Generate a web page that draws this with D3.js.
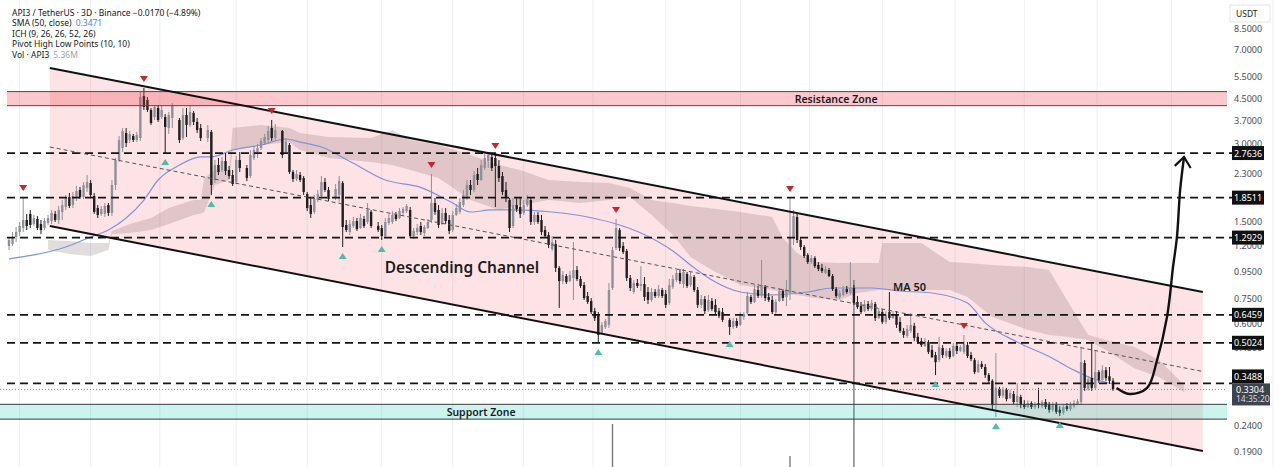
<!DOCTYPE html>
<html><head><meta charset="utf-8">
<script src="https://cdn.jsdelivr.net/npm/d3@7"></script>
<style>
html,body{margin:0;padding:0;background:#fff;overflow:hidden;}
svg{display:block;font-family:"Noto Sans","Open Sans",Arial,sans-serif;}
</style></head><body>
<svg id="c" width="1280" height="467"></svg>
<script>
// ---------- DATA ----------
// candles: [candle index, open, high, low, close]  (USDT)
const ohlc = [
[0,1.199,1.300,1.156,1.265],[1,1.220,1.359,1.199,1.300],[2,1.300,1.422,1.242,1.359],[3,1.359,1.487,1.311,1.435],
[4,1.409,1.862,1.359,1.514],[5,1.514,1.599,1.384,1.435],[6,1.599,1.657,1.409,1.448],[7,1.461,1.584,1.435,1.542],
[8,1.528,1.570,1.384,1.409],[9,1.461,1.514,1.335,1.384],[10,1.409,1.542,1.384,1.500],[11,1.474,1.584,1.448,1.542],
[12,1.500,1.657,1.461,1.613],[13,1.599,1.642,1.487,1.514],[14,1.514,1.717,1.461,1.657],[15,1.628,1.812,1.514,1.732],
[16,1.702,1.896,1.657,1.845],[17,1.862,1.930,1.686,1.717],[18,1.732,1.948,1.686,1.879],[19,1.845,2.055,1.796,1.965],
[20,1.983,2.037,1.829,1.862],[21,1.862,2.130,1.829,2.074],[22,2.018,2.269,1.948,2.130],[23,2.111,2.169,1.862,1.896],
[24,1.879,1.930,1.599,1.628],[25,1.686,1.732,1.542,1.584],[26,1.599,1.717,1.570,1.671],[27,1.599,1.764,1.556,1.717],
[28,1.732,1.764,1.570,1.613],[29,1.613,2.169,1.570,2.074],[30,2.074,2.643,1.983,2.596],[31,2.596,3.221,2.550,3.107],
[32,2.891,3.461,2.789,3.368],[33,3.309,3.461,2.918,3.024],[34,3.107,3.368,3.024,3.279],[35,3.221,3.279,3.052,3.107],
[36,3.107,3.339,3.052,3.250],[37,3.163,4.783,3.079,4.573],[38,4.614,4.958,4.069,4.180],[39,4.451,4.573,3.997,4.069],
[40,4.069,4.142,3.556,3.620],[41,3.821,4.256,3.719,4.180],[42,4.142,4.256,3.653,3.719],[43,3.821,4.217,3.753,4.069],
[44,3.821,3.925,2.764,3.493],[45,3.461,3.997,3.279,3.890],[46,3.787,4.333,3.461,4.217],[48,3.719,3.787,3.024,3.107],
[49,3.163,4.142,3.107,3.890],[50,3.890,4.142,3.192,3.556],[51,3.556,4.217,3.493,3.997],[52,3.961,4.032,3.556,3.653],
[53,3.653,3.787,3.309,3.399],[54,3.461,3.588,3.079,3.163],[56,3.163,3.556,3.052,3.399],[57,3.339,3.399,1.896,2.074],
[58,2.169,2.596,2.111,2.482],[59,2.482,2.643,2.269,2.331],[60,2.373,2.667,2.331,2.573],[61,2.573,2.764,2.269,2.352],
[62,2.373,2.460,2.189,2.248],[63,2.269,2.373,2.055,2.092],[64,2.130,2.691,2.092,2.596],[65,2.596,2.789,2.331,2.416],
[67,2.416,2.482,2.149,2.208],[68,2.248,2.840,2.208,2.715],[69,2.643,2.944,2.596,2.840],[70,2.789,2.997,2.643,2.891],
[71,2.891,3.163,2.840,3.079],[72,3.024,3.279,2.971,3.192],[73,3.107,3.524,2.997,3.368],[74,3.461,3.719,3.079,3.163],
[75,3.163,3.588,3.079,3.399],[77,3.368,3.400,2.643,2.715],[78,2.789,3.163,2.764,3.052],[79,2.971,3.024,2.289,2.331],
[80,2.331,2.373,2.130,2.189],[81,2.189,2.373,2.149,2.289],[82,2.269,2.331,2.130,2.169],[83,2.208,2.248,1.896,1.948],
[84,1.913,1.948,1.642,1.686],[85,1.732,1.845,1.542,1.599],[86,1.628,1.896,1.599,1.829],[87,1.812,1.983,1.780,1.913],
[88,1.879,2.248,1.845,2.130],[89,2.130,2.208,1.948,1.983],[90,1.983,2.037,1.796,1.829],[92,1.845,2.092,1.812,2.000],
[93,1.896,2.248,1.780,2.149],[94,2.111,2.149,1.188,1.422],[95,1.448,1.514,1.359,1.384],[96,1.359,1.514,1.323,1.461],
[97,1.435,1.556,1.409,1.500],[98,1.500,1.542,1.372,1.396],[99,1.409,1.599,1.396,1.542],[100,1.528,1.570,1.409,1.435],
[101,1.487,1.764,1.461,1.657],[102,1.628,1.657,1.409,1.435],[104,1.435,1.487,1.359,1.384],[105,1.409,1.448,1.265,1.311],
[106,1.311,1.542,1.288,1.487],[107,1.474,1.599,1.448,1.542],[108,1.487,1.642,1.461,1.584],[109,1.584,1.628,1.500,1.528],
[110,1.542,1.686,1.528,1.642],[111,1.613,1.702,1.570,1.671],[112,1.642,1.748,1.613,1.717],[113,1.657,1.702,1.288,1.311],
[114,1.311,1.409,1.276,1.372],[115,1.359,1.461,1.323,1.409],[116,1.435,1.487,1.323,1.359],[117,1.347,1.448,1.311,1.422],
[118,1.409,1.528,1.396,1.487],[119,1.514,2.289,1.474,1.764],[120,1.764,1.845,1.584,1.628],[121,1.657,1.732,1.409,1.448],
[122,1.461,1.686,1.448,1.613],[123,1.613,1.686,1.461,1.500],[124,1.514,1.584,1.335,1.372],[125,1.384,1.642,1.359,1.584],
[126,1.584,1.748,1.570,1.686],[127,1.628,1.845,1.599,1.780],[128,1.732,1.983,1.702,1.896],[129,1.845,2.169,1.812,2.074],
[130,2.074,2.169,1.896,1.983],[131,1.983,2.352,1.948,2.269],[132,2.289,2.416,2.074,2.169],[133,2.169,2.596,2.149,2.482],
[134,2.416,2.740,2.373,2.643],[135,2.573,2.789,2.416,2.715],[136,2.667,2.715,2.352,2.416],[137,2.643,2.715,1.702,2.460],
[138,2.460,2.596,2.130,2.208],[139,2.248,2.331,1.896,1.948],[140,1.983,2.130,1.780,1.845],[141,1.812,1.845,1.359,1.409],
[142,1.435,1.845,1.409,1.732],[143,1.732,1.845,1.628,1.671],[144,1.702,1.845,1.542,1.599],[145,1.613,1.812,1.584,1.732],
[146,1.732,1.896,1.702,1.829],[147,1.812,1.862,1.448,1.487],[148,1.487,1.628,1.448,1.584],[149,1.584,1.628,1.461,1.487],
[150,1.514,1.584,1.323,1.359],[151,1.384,1.435,1.288,1.311],[152,1.323,1.359,1.177,1.209],[153,1.167,1.311,1.146,1.242],
[154,1.220,1.265,0.949,0.984],[155,0.984,1.001,0.687,0.875],[156,0.875,0.957,0.852,0.924],[157,0.915,0.932,0.852,0.867],
[158,0.875,0.957,0.867,0.924],[159,0.899,1.242,0.738,0.966],[160,0.966,1.001,0.875,0.891],[161,0.891,0.915,0.822,0.837],
[162,0.844,0.867,0.738,0.751],[163,0.765,0.793,0.712,0.725],[164,0.731,0.751,0.650,0.662],[165,0.668,0.687,0.611,0.627],
[166,0.644,0.662,0.501,0.539],[167,0.549,0.606,0.544,0.590],[168,0.579,0.622,0.569,0.611],[169,0.590,0.860,0.574,0.807],
[170,0.822,1.188,0.807,1.156],[171,1.177,1.528,1.156,1.409],[172,1.384,1.409,1.146,1.177],[173,1.199,1.242,1.115,1.135],
[174,1.146,1.167,0.875,0.899],[175,0.899,0.924,0.800,0.822],[176,0.793,0.883,0.779,0.860],[177,0.860,0.891,0.822,0.837],
[178,0.837,1.001,0.800,0.852],[179,0.852,0.907,0.731,0.758],[180,0.793,0.829,0.712,0.738],[181,0.738,0.822,0.725,0.793],
[182,0.793,0.814,0.751,0.765],[183,0.765,0.844,0.751,0.814],[184,0.807,0.822,0.751,0.765],[185,0.779,0.807,0.687,0.706],
[186,0.718,0.891,0.706,0.844],[187,0.829,0.924,0.814,0.891],[188,0.883,0.966,0.867,0.940],[189,0.940,0.975,0.852,0.875],
[190,0.852,0.975,0.822,0.949],[191,0.932,0.949,0.822,0.837],[192,0.844,0.949,0.829,0.915],[193,0.907,0.924,0.793,0.807],
[194,0.807,0.829,0.687,0.706],[195,0.706,0.772,0.687,0.744],[196,0.744,0.765,0.650,0.668],[197,0.674,0.772,0.662,0.738],
[198,0.731,0.751,0.668,0.681],[199,0.706,0.744,0.650,0.662],[200,0.668,0.687,0.627,0.639],[201,0.662,0.687,0.606,0.617],
[203,0.617,0.627,0.539,0.579],[204,0.579,0.627,0.569,0.611],[205,0.611,0.627,0.574,0.585],[206,0.590,0.662,0.585,0.644],
[207,0.633,0.662,0.617,0.650],[208,0.656,0.793,0.644,0.765],[209,0.758,0.772,0.712,0.725],[210,0.725,0.844,0.718,0.814],
[211,0.807,0.837,0.751,0.765],[212,0.765,1.057,0.751,0.844],[213,0.829,0.844,0.731,0.751],[214,0.758,0.786,0.725,0.738],
[215,0.738,0.765,0.650,0.662],[216,0.662,0.744,0.650,0.725],[217,0.731,0.822,0.725,0.800],[218,0.800,0.814,0.731,0.751],
[219,0.758,0.883,0.699,0.800],[220,0.786,1.845,0.738,1.300],[221,1.288,1.657,1.209,1.570],[222,1.556,1.599,1.231,1.265],
[223,1.265,1.288,1.156,1.188],[224,1.188,1.209,1.076,1.095],[225,1.105,1.125,1.020,1.038],[226,1.038,1.105,1.020,1.076],
[227,1.076,1.095,0.984,1.001],[228,1.011,1.038,0.957,0.975],[229,0.984,1.020,0.940,0.957],[230,0.940,1.001,0.932,0.975],
[231,0.966,0.984,0.907,0.915],[232,0.915,0.932,0.800,0.814],[233,0.814,0.829,0.751,0.765],[234,0.758,0.807,0.744,0.786],
[235,0.772,0.837,0.765,0.814],[236,0.814,0.837,0.779,0.793],[237,0.786,1.038,0.772,0.822],[238,0.822,0.844,0.706,0.718],
[239,0.725,0.765,0.681,0.693],[240,0.699,0.725,0.650,0.662],[241,0.668,0.738,0.662,0.712],[242,0.712,0.731,0.668,0.681],
[243,0.681,0.738,0.668,0.718],[244,0.712,0.725,0.611,0.627],[245,0.627,0.687,0.622,0.668],[246,0.662,0.681,0.595,0.606],
[247,0.606,0.668,0.595,0.644],[248,0.662,0.793,0.617,0.627],[249,0.627,0.668,0.622,0.650],[250,0.650,0.668,0.574,0.590],
[251,0.606,0.633,0.549,0.559],[252,0.559,0.574,0.525,0.539],[253,0.534,0.590,0.525,0.569],[254,0.559,0.656,0.549,0.590],
[255,0.585,0.601,0.510,0.525],[256,0.530,0.549,0.497,0.506],[257,0.510,0.525,0.484,0.492],[258,0.488,0.525,0.484,0.510],
[259,0.506,0.515,0.454,0.463],[260,0.471,0.492,0.438,0.442],[261,0.450,0.463,0.376,0.422],[262,0.430,0.530,0.422,0.484],
[263,0.479,0.492,0.438,0.450],[264,0.446,0.479,0.438,0.467],[265,0.467,0.479,0.434,0.442],[266,0.446,0.501,0.442,0.488],
[267,0.488,0.506,0.454,0.467],[268,0.467,0.492,0.463,0.484],[269,0.463,0.539,0.454,0.497],[270,0.492,0.506,0.438,0.446],
[271,0.450,0.463,0.426,0.434],[272,0.430,0.438,0.379,0.386],[273,0.386,0.430,0.383,0.415],[274,0.415,0.426,0.397,0.404],
[275,0.404,0.415,0.366,0.376],[276,0.376,0.383,0.350,0.357],[277,0.357,0.362,0.272,0.287],[278,0.289,0.458,0.258,0.335],
[279,0.332,0.338,0.306,0.312],[280,0.312,0.338,0.306,0.329],[281,0.329,0.335,0.297,0.303],[282,0.306,0.329,0.303,0.320],
[283,0.317,0.326,0.289,0.295],[284,0.295,0.350,0.282,0.312],[285,0.309,0.315,0.279,0.287],[286,0.289,0.300,0.277,0.282],
[287,0.282,0.300,0.279,0.292],[288,0.292,0.297,0.277,0.282],[289,0.282,0.295,0.277,0.289],[290,0.292,0.335,0.279,0.287],
[291,0.284,0.300,0.279,0.295],[292,0.295,0.303,0.277,0.282],[293,0.289,0.295,0.268,0.275],[294,0.275,0.295,0.270,0.289],
[295,0.289,0.295,0.265,0.270],[296,0.275,0.284,0.260,0.268],[297,0.268,0.287,0.263,0.282],[298,0.284,0.292,0.272,0.277],
[299,0.277,0.295,0.272,0.289],[300,0.284,0.300,0.279,0.292],[301,0.289,0.303,0.287,0.297],[302,0.295,0.484,0.289,0.422],
[303,0.419,0.430,0.326,0.335],[304,0.332,0.372,0.326,0.362],[305,0.366,0.506,0.326,0.335],[306,0.335,0.471,0.329,0.386],
[307,0.386,0.393,0.350,0.360],[308,0.360,0.411,0.357,0.393],[309,0.393,0.404,0.357,0.366],[310,0.372,0.404,0.347,0.357],
[311,0.357,0.366,0.326,0.3304]
];
// volume (millions) of the candles whose bars reach into view
const volT = [170, 220, 238];
const volV = [98, 82, 170];
// SMA(50)
const smaT = [0,7,16,23,28,33,38,42,48,54,57,63,71,78,82,88,97,106,116,125,130,136,142,153,163,172,178,187,193,198,206,215,225,232,243,251,260,270,275,284,293,300,304,311];
const smaV = [1.067,1.106,1.188,1.299,1.384,1.541,1.812,2.169,2.48,2.67,2.67,2.84,2.97,3.135,3.05,2.917,2.52,2.169,2.03,1.763,1.627,1.657,1.657,1.627,1.556,1.448,1.347,1.146,0.985,0.883,0.793,0.772,0.793,0.822,0.822,0.800,0.786,0.718,0.601,0.506,0.444,0.393,0.370,0.347];
// Ichimoku cloud edges (upper / lower)
const cloudT  = [11,17,23,28,29,34,40,45,52,54,55,58,62,63,71,79,82,90,102,108,113,121,130,138,144,152,161,169,175,181,187,192,197,206,215,218,222,227,234,239,245,246,257,265,270,277,287,293,298,304,309,317,324,331];
const cloudHi = [1.265,1.254,1.231,1.231,1.372,1.461,1.542,1.686,1.812,1.812,2.208,2.373,2.373,3.461,3.556,3.461,3.309,3.192,3.163,3.399,3.107,2.971,2.715,2.482,2.373,2.169,2.130,2.111,2.018,1.812,1.764,1.717,1.686,1.628,1.556,1.288,1.125,1.038,1.029,1.029,1.029,1.231,1.231,1.038,1.029,1.011,0.993,0.966,0.738,0.539,0.515,0.484,0.430,0.344];
const cloudLo = [1.156,1.115,1.095,1.156,1.335,1.347,1.384,1.461,1.584,1.600,1.628,2.074,2.169,2.840,2.971,3.052,2.840,2.643,2.550,2.482,2.373,2.208,1.812,1.657,1.732,1.812,1.764,1.812,1.862,1.584,1.323,1.086,0.984,0.844,0.807,0.793,0.772,0.751,0.738,0.786,0.807,0.807,0.807,0.807,0.758,0.633,0.564,0.539,0.530,0.515,0.471,0.400,0.369,0.323];
// pivot points (candle indices)
const pivotHighT = [4,38,74,119,137,171,220,269];
const pivotLowT  = [44,57,94,105,166,203,261,278,296];
// drawings
const channelT = [11.5, 336.3];
const channelUpper = [5.934, 0.793];
const channelLower = [1.435, 0.190];
const levels = [2.7636, 1.8511, 1.2929, 0.6459, 0.5024, 0.3488];
const resistanceZone = [4.23, 4.80];
const supportZone = [0.253, 0.289];
const lastPrice = 0.3304;
const lastTime = "14:35:20";
const arrowT = [312, 315.8, 320.6, 323.4, 326.2, 327.9, 329, 329.9, 331];
const arrowP = [0.335, 0.317, 0.335, 0.430, 0.633, 0.993, 1.300, 1.983, 2.667];
const axisTicks = [8.5, 7.0, 5.5, 4.5, 3.7, 3.0, 2.3, 1.5, 1.2, 0.95, 0.75, 0.6, 0.48, 0.38, 0.24, 0.19];
const gridT = [3, 23, 42.5, 64, 84, 105, 125, 145, 164.5, 185, 206, 225.5, 246, 266.5, 286, 306.5, 327.5];
const legendLines = ["API3 / TetherUS · 3D · Binance  −0.0170 (−4.89%)", "SMA (50, close)", "ICH (9, 26, 26, 52, 26)", "Pivot High Low Points (10, 10)", "Vol · API3"];
const legendValues = ["", "0.3471", "", "", "5.36M"];

// ---------- SCALES ----------
const svg = d3.select('#c');
const plotL = 7, plotR = 1227;
const x = d3.scaleLinear().domain([0, 343.1]).range([9, plotR]);
const y = d3.scaleLog().domain([8.5, 0.19]).range([28, 451]);
const vy = d3.scaleLinear().domain([0, 170]).range([620, 280]);

// grid
svg.append('g').selectAll('line').data(gridT).join('line')
  .attr('x1', d => x(d)).attr('x2', d => x(d)).attr('y1', 0).attr('y2', 467)
  .attr('stroke', '#eceef3').attr('stroke-width', 1);

// channel fill
const cu = [[x(channelT[0]), y(channelUpper[0])], [x(channelT[1]), y(channelUpper[1])]];
const cl = [[x(channelT[0]), y(channelLower[0])], [x(channelT[1]), y(channelLower[1])]];
svg.append('path')
  .attr('d', d3.line()([cu[0], cu[1], cl[1], cl[0]]) + 'Z')
  .attr('fill', 'rgba(242,54,69,0.14)');

// cloud
const cloud = cloudT.map((t, i) => [t, cloudHi[i], cloudLo[i]]);
svg.append('path').datum(cloud)
  .attr('d', d3.area().x(d => x(d[0])).y0(d => y(d[2])).y1(d => y(d[1])))
  .attr('fill', 'rgba(110,85,85,0.2)');

// volume
svg.append('g').selectAll('rect').data(volT.map((t, i) => [t, volV[i]])).join('rect')
  .attr('x', d => x(d[0]) - 0.7).attr('width', 1.4)
  .attr('y', d => vy(d[1])).attr('height', d => 620 - vy(d[1]))
  .attr('fill', '#7a7a7a');

// SMA
svg.append('path').datum(smaT.map((t, i) => [t, smaV[i]]))
  .attr('d', d3.line().x(d => x(d[0])).y(d => y(d[1])).curve(d3.curveMonotoneX))
  .attr('fill', 'none').attr('stroke', '#8193d8').attr('stroke-width', 1.2);

// candles
const cg = svg.append('g');
const up = d => d[4] >= d[1];
const upCol = '#8e9199', dnCol = '#1e1e1e';
cg.selectAll('line').data(ohlc).join('line')
  .attr('x1', d => x(d[0])).attr('x2', d => x(d[0]))
  .attr('y1', d => y(d[2])).attr('y2', d => y(d[3]))
  .attr('stroke', d => up(d) ? upCol : dnCol).attr('stroke-width', 1);
cg.selectAll('rect').data(ohlc).join('rect')
  .attr('x', d => x(d[0]) - 1.2).attr('width', 2.4)
  .attr('y', d => y(Math.max(d[1], d[4])))
  .attr('height', d => Math.max(1, y(Math.min(d[1], d[4])) - y(Math.max(d[1], d[4]))))
  .attr('fill', d => up(d) ? upCol : dnCol);

// zones
function zone(range, fill, stroke, x0) {
  svg.append('rect').attr('x', x0).attr('width', plotR - x0)
    .attr('y', y(range[1])).attr('height', y(range[0]) - y(range[1]))
    .attr('fill', fill);
  [range[0], range[1]].forEach(v => svg.append('line')
    .attr('x1', x0).attr('x2', plotR).attr('y1', y(v)).attr('y2', y(v))
    .attr('stroke', stroke).attr('stroke-width', 1));
}
zone(resistanceZone, 'rgba(242,54,69,0.27)', '#6e3c3c', plotL);
zone(supportZone, 'rgba(0,200,170,0.2)', '#3a3a3a', 0);

// level lines
svg.append('g').selectAll('line').data(levels).join('line')
  .attr('x1', plotL).attr('x2', 1232).attr('y1', d => y(d)).attr('y2', d => y(d))
  .attr('stroke', '#151515').attr('stroke-width', 1.8).attr('stroke-dasharray', '8,5');

// last price dotted line
svg.append('line').attr('x1', 0).attr('x2', plotR).attr('y1', y(lastPrice)).attr('y2', y(lastPrice))
  .attr('stroke', '#8a8a8a').attr('stroke-width', 1).attr('stroke-dasharray', '1,2');

// channel lines
svg.append('line').attr('x1', cu[0][0]).attr('y1', cu[0][1]).attr('x2', cu[1][0]).attr('y2', cu[1][1])
  .attr('stroke', '#111').attr('stroke-width', 2);
svg.append('line').attr('x1', cl[0][0]).attr('y1', cl[0][1]).attr('x2', cl[1][0]).attr('y2', cl[1][1])
  .attr('stroke', '#111').attr('stroke-width', 2);
svg.append('line')
  .attr('x1', x(channelT[0])).attr('y1', y(Math.sqrt(channelUpper[0] * channelLower[0])))
  .attr('x2', x(channelT[1])).attr('y2', y(Math.sqrt(channelUpper[1] * channelLower[1])))
  .attr('stroke', '#555').attr('stroke-width', 1).attr('stroke-dasharray', '4,3');

// pivot markers
const byT = new Map(ohlc.map(d => [d[0], d]));
svg.append('g').selectAll('path').data(pivotHighT).join('path')
  .attr('transform', t => `translate(${x(t)},${y(byT.get(t)[2]) - 9})`)
  .attr('d', 'M-4,-3 L4,-3 L0,3 Z').attr('fill', '#c62828');
svg.append('g').selectAll('path').data(pivotLowT).join('path')
  .attr('transform', t => `translate(${x(t)},${y(byT.get(t)[3]) + 9})`)
  .attr('d', 'M-4,3 L4,3 L0,-3 Z').attr('fill', '#4dbfa8');

// curved arrow
const defs = svg.append('defs');
defs.append('marker').attr('id', 'ah').attr('viewBox', '-12 -10 16 20')
  .attr('markerWidth', 16).attr('markerHeight', 20).attr('refX', 0).attr('refY', 0)
  .attr('orient', 'auto').attr('markerUnits', 'userSpaceOnUse')
  .append('path').attr('d', 'M-10,-8 L0,0 L-10,8').attr('fill', 'none')
  .attr('stroke', '#111').attr('stroke-width', 2.2);
svg.append('path').datum(arrowT.map((t, i) => [t, arrowP[i]]))
  .attr('d', d3.line().x(d => x(d[0])).y(d => y(d[1])).curve(d3.curveCatmullRom.alpha(0.5)))
  .attr('fill', 'none').attr('stroke', '#111').attr('stroke-width', 2.4)
  .attr('marker-end', 'url(#ah)');

// annotation text
svg.append('text').attr('x', x(127.6)).attr('y', y(0.94)).attr('text-anchor', 'middle')
  .attr('font-size', 15.5).attr('font-weight', 600).attr('fill', '#1c1c1c').text('Descending Channel');
svg.append('text').attr('x', x(249)).attr('y', y(0.80)).attr('text-anchor', 'start')
  .attr('font-size', 11).attr('font-weight', 600).attr('fill', '#1c1c1c').text('MA 50');
svg.append('text').attr('x', x(233)).attr('y', y(Math.sqrt(resistanceZone[0] * resistanceZone[1])) + 4)
  .attr('text-anchor', 'middle').attr('font-size', 10.5).attr('font-weight', 600).attr('fill', '#1c1c1c').text('Resistance Zone');
svg.append('text').attr('x', x(133)).attr('y', y(Math.sqrt(supportZone[0] * supportZone[1])) + 4)
  .attr('text-anchor', 'middle').attr('font-size', 10.5).attr('font-weight', 600).attr('fill', '#1c1c1c').text('Support Zone');

// right axis
const fmt = d3.format('.4f');
svg.append('line').attr('x1', 1273).attr('x2', 1273).attr('y1', 0).attr('y2', 467).attr('stroke', '#eceef3');
svg.append('g').selectAll('text').data(axisTicks).join('text')
  .attr('x', 1234).attr('y', d => y(d) + 3.5).attr('font-size', 9).attr('fill', '#4a4d55').text(d => fmt(d));
// last price box
const lpTop = y(lastPrice) - 6;
const lp = svg.append('g').attr('transform', `translate(1232,${lpTop})`);
lp.append('rect').attr('width', 38).attr('height', 22).attr('fill', '#3f434e');
lp.append('text').attr('x', 4).attr('y', 9.5).attr('font-size', 9).attr('fill', '#fff').text(fmt(lastPrice));
lp.append('text').attr('x', 4).attr('y', 19).attr('font-size', 8.5).attr('fill', '#d8d9dd').text(lastTime);
// level labels, pushed up if they would cover the last price box
const lg = svg.append('g').selectAll('g').data(levels).join('g')
  .attr('transform', d => `translate(1232,${Math.min(y(d), y(d) > lpTop - 20 ? lpTop - 7 : y(d))})`);
lg.append('rect').attr('x', 0).attr('y', -7).attr('width', 32).attr('height', 14).attr('fill', '#111');
lg.append('text').attr('x', 16).attr('y', 3.5).attr('text-anchor', 'middle').attr('font-size', 9)
  .attr('fill', '#fff').text(d => fmt(d));
const ub = svg.append('g').attr('transform', 'translate(1230,5)');
ub.append('rect').attr('width', 40).attr('height', 17).attr('fill', '#fff').attr('stroke', '#e3e5ea');
ub.append('text').attr('x', 6).attr('y', 12).attr('font-size', 8.5).attr('fill', '#222').text('USDT');

// legend
const leg = svg.append('g').attr('font-size', 8.5).attr('fill', '#131722');
legendLines.forEach((s, i) => {
  const t = leg.append('text').attr('x', 12).attr('y', 16 + i * 10.4);
  t.append('tspan').text(s);
  if (legendValues[i]) t.append('tspan').attr('dx', 4)
    .attr('fill', i === 1 ? '#4a8ad8' : '#a0a3aa').text(legendValues[i]);
});
</script>
</body></html>
